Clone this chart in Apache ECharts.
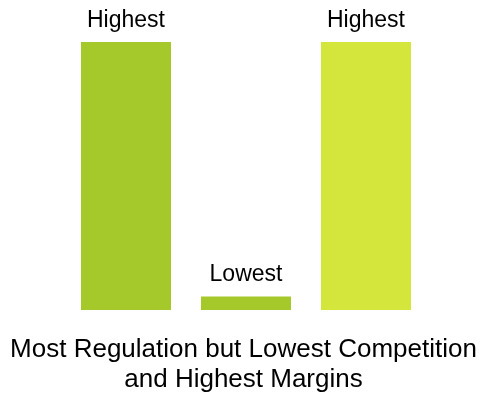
<!DOCTYPE html>
<html>
<head>
<meta charset="utf-8">
<script src="https://cdn.jsdelivr.net/npm/echarts@6/dist/echarts.min.js"></script>
<style>
  html, body { margin: 0; padding: 0; background: #fff; }
  #chart { width: 487px; height: 396px; }
</style>
</head>
<body>
<div id="chart"></div>
<script>
// Relative market levels for three segments
const categories = ['A', 'B', 'C'];
const values = [100, 5, 100];
const valueLabels = ['Highest', 'Lowest', 'Highest'];
const barColors = ['#A5C92B', '#A5C92B', '#D4E63B'];
const caption = 'Most Regulation but Lowest Competition\nand Highest Margins';

const chart = echarts.init(document.getElementById('chart'));
chart.setOption({
  animation: false,
  title: {
    text: caption,
    left: 'center',
    top: 335,
    padding: 0,
    textStyle: {
      fontFamily: 'Liberation Sans, Arial, sans-serif',
      fontSize: 26,
      fontWeight: 'normal',
      color: '#000',
      lineHeight: 30,
      align: 'center'
    }
  },
  grid: { left: 66, right: 61, top: 42, bottom: 86 },
  xAxis: {
    type: 'category',
    data: categories,
    axisLine: { show: false },
    axisTick: { show: false },
    axisLabel: { show: false }
  },
  yAxis: {
    type: 'value',
    min: 0,
    max: 100,
    show: false,
    splitLine: { show: false }
  },
  series: [{
    type: 'bar',
    barWidth: 90,
    data: values.map((v, i) => ({
      value: v,
      itemStyle: { color: barColors[i] },
      label: {
        show: true,
        position: 'top',
        distance: 10,
        formatter: valueLabels[i],
        fontFamily: 'Liberation Sans, Arial, sans-serif',
        fontSize: 23,
        color: '#000'
      }
    }))
  }]
});
</script>
</body>
</html>
